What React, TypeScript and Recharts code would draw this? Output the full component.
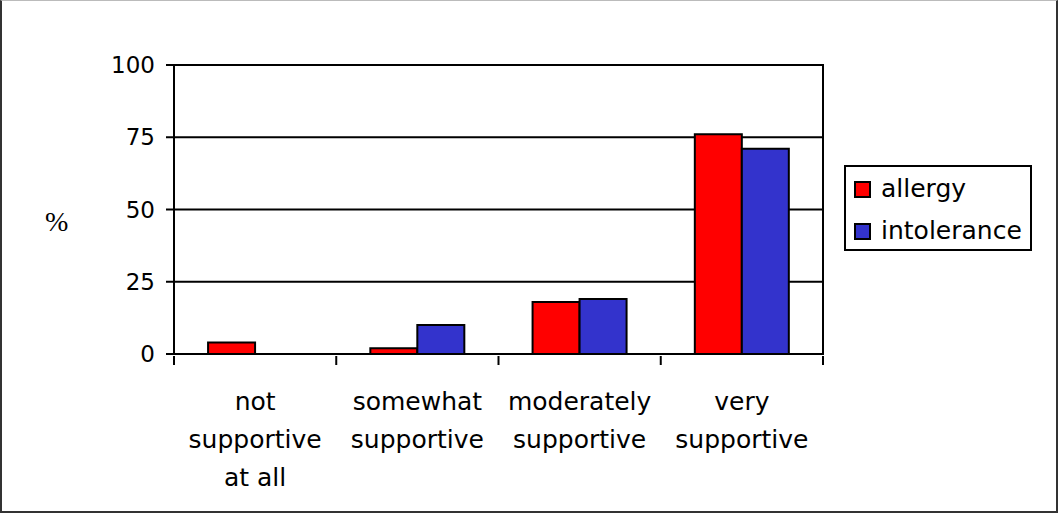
import React from "react";
import { BarChart, Bar, XAxis, YAxis, CartesianGrid, Legend, ReferenceArea } from "recharts";

// ── Data ───────────────────────────────────────────────────────────────────

const categories = [
  "not\nsupportive\nat all",
  "somewhat\nsupportive",
  "moderately\nsupportive",
  "very\nsupportive",
];
const allergy = [4, 2, 18, 76];
const intolerance = [0, 10, 19, 71];
const yTicks = [0, 25, 50, 75, 100];

const series = [
  { key: "allergy", name: "allergy", color: "#FF0000" },
  { key: "intolerance", name: "intolerance", color: "#3333CC" },
];

const data = categories.map((c, i) => ({
  category: c,
  allergy: allergy[i],
  intolerance: intolerance[i],
}));

// ── Layout ─────────────────────────────────────────────────────────────────

const W = 1058;
const H = 513;
const margin = { top: 65, right: 235, bottom: 0, left: 0 };
const yAxisWidth = 174;
const xAxisHeight = 159;
const plotWidth = W - margin.left - margin.right - yAxisWidth;
const band = plotWidth / categories.length;
const FONT = "'DejaVu Sans', Verdana, sans-serif";

function CategoryTick(props: any) {
  const { x, y, payload, index } = props;
  const lines = String(payload.value).split("\n");
  const top = y - 8;
  return (
    <g>
      <line x1={x - band / 2} x2={x - band / 2} y1={top} y2={top + 9} stroke="#000" strokeWidth={2} />
      {index === categories.length - 1 && (
        <line x1={x + band / 2} x2={x + band / 2} y1={top} y2={top + 9} stroke="#000" strokeWidth={2} />
      )}
      <text x={x} y={top + 54} textAnchor="middle" fontSize={25} fontFamily={FONT} fill="#000">
        {lines.map((l, i) => (
          <tspan key={i} x={x} dy={i === 0 ? 0 : 38}>
            {l}
          </tspan>
        ))}
      </text>
    </g>
  );
}

function LegendBox() {
  return (
    <div
      style={{
        boxSizing: "border-box",
        width: 188,
        height: 86,
        border: "2px solid #000",
        background: "#fff",
        padding: "1px 0 0 8px",
        fontFamily: FONT,
        fontSize: 25,
        color: "#000",
      }}
    >
      {series.map((s) => (
        <div key={s.key} style={{ display: "flex", alignItems: "center", height: 42 }}>
          <span
            style={{
              display: "inline-block",
              boxSizing: "border-box",
              width: 17,
              height: 17,
              background: s.color,
              border: "2px solid #000",
              marginRight: 10,
              flex: "none",
            }}
          />
          <span style={{ lineHeight: "42px", whiteSpace: "nowrap" }}>{s.name}</span>
        </div>
      ))}
    </div>
  );
}

export default function App() {
  return (
    <div style={{ position: "absolute", left: 0, top: 0, width: W, height: H, background: "#fff" }}>
      <BarChart
        width={W}
        height={H}
        data={data}
        margin={margin}
        barGap={0}
        barCategoryGap="21%"
      >
        <CartesianGrid vertical={false} stroke="#000" strokeWidth={2} />
        <XAxis
          dataKey="category"
          height={xAxisHeight}
          interval={0}
          tickLine={false}
          tickSize={8}
          axisLine={{ stroke: "#000", strokeWidth: 2 }}
          tick={<CategoryTick />}
        />
        <YAxis
          width={yAxisWidth}
          domain={[0, 100]}
          ticks={yTicks}
          interval={0}
          tickSize={8}
          tickMargin={11}
          tickLine={{ stroke: "#000", strokeWidth: 2 }}
          axisLine={{ stroke: "#000", strokeWidth: 2 }}
          tick={{ fontSize: 23, fontFamily: FONT, fill: "#000" }}
          label={{
            value: "%",
            position: "insideLeft",
            offset: 45,
            dy: 12,
            style: { fontSize: 28, fontFamily: "'Liberation Serif', 'Times New Roman', serif", fill: "#000" },
          }}
        />
        <ReferenceArea y1={0} y2={100} fill="none" stroke="#000" strokeWidth={2} ifOverflow="visible" />
        <Legend
          layout="vertical"
          align="center"
          verticalAlign="middle"
          wrapperStyle={{ left: 844, top: 165, width: 188, height: 86 }}
          content={() => <LegendBox />}
        />
        {series.map((s) => (
          <Bar
            key={s.key}
            dataKey={s.key}
            name={s.name}
            fill={s.color}
            stroke="#000"
            strokeWidth={2}
            isAnimationActive={false}
          />
        ))}
      </BarChart>
      <div
        style={{
          position: "absolute",
          inset: 0,
          boxSizing: "border-box",
          borderTop: "1px solid #bbb",
          borderLeft: "2px solid #333",
          borderRight: "2px solid #333",
          borderBottom: "2px solid #333",
          pointerEvents: "none",
        }}
      />
    </div>
  );
}
